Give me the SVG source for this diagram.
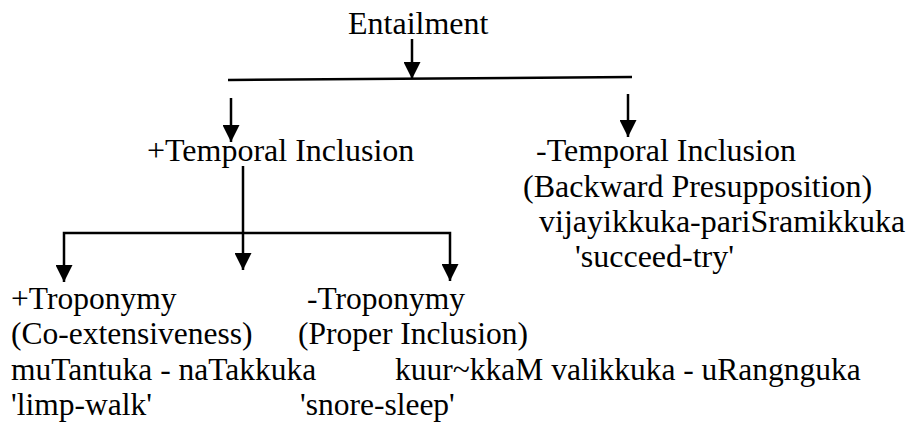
<svg xmlns="http://www.w3.org/2000/svg" width="907" height="424" viewBox="0 0 907 424">
<defs>
<style>
text{font-family:"Liberation Serif","Times New Roman",serif;font-size:32px;fill:#000}
.lo{font-size:31.5px}
.c{fill:none;stroke:#000;stroke-width:2.5}
</style>
<marker id="ah" markerUnits="userSpaceOnUse" markerWidth="17" markerHeight="17" refX="16" refY="8" orient="auto" viewBox="0 0 16 16">
<path d="M0,0 L16,8 L0,16 z" fill="#000"/>
</marker>
</defs>
<rect width="907" height="424" fill="#fff"/>
<g id="connectors">
<line class="c" x1="412" y1="39" x2="412" y2="79" marker-end="url(#ah)"/>
<line class="c" x1="228" y1="80" x2="632" y2="77"/>
<line class="c" x1="231" y1="98" x2="231" y2="142" marker-end="url(#ah)"/>
<line class="c" x1="628" y1="94" x2="628" y2="137" marker-end="url(#ah)"/>
<line class="c" x1="243" y1="166" x2="243" y2="270" marker-end="url(#ah)"/>
<path class="c" d="M243,233 H64 V282" marker-end="url(#ah)"/>
<path class="c" d="M243,233 H450 V281" marker-end="url(#ah)"/>
</g>
<g id="entailment"><text x="348" y="34">Entailment</text></g>
<g id="plus-temporal"><text x="147" y="161">+Temporal Inclusion</text></g>
<g id="minus-temporal">
<text x="536" y="161">-Temporal Inclusion</text>
<text x="523" y="197">(Backward Presupposition)</text>
<text x="539" y="232">vijayikkuka-pariSramikkuka</text>
<text x="575" y="267">'succeed-try'</text>
</g>
<g id="plus-troponymy" class="lo">
<text class="lo" x="11" y="309">+Troponymy</text>
<text class="lo" x="11" y="344">(Co-extensiveness)</text>
<text class="lo" x="11" y="380">muTantuka - naTakkuka</text>
<text class="lo" x="11" y="415">'limp-walk'</text>
</g>
<g id="minus-troponymy">
<text class="lo" x="307" y="309">-Troponymy</text>
<text class="lo" x="298" y="344">(Proper Inclusion)</text>
<text class="lo" x="395" y="380">kuur~kkaM valikkuka - uRangnguka</text>
<text class="lo" x="300" y="415">'snore-sleep'</text>
</g>
</svg>
